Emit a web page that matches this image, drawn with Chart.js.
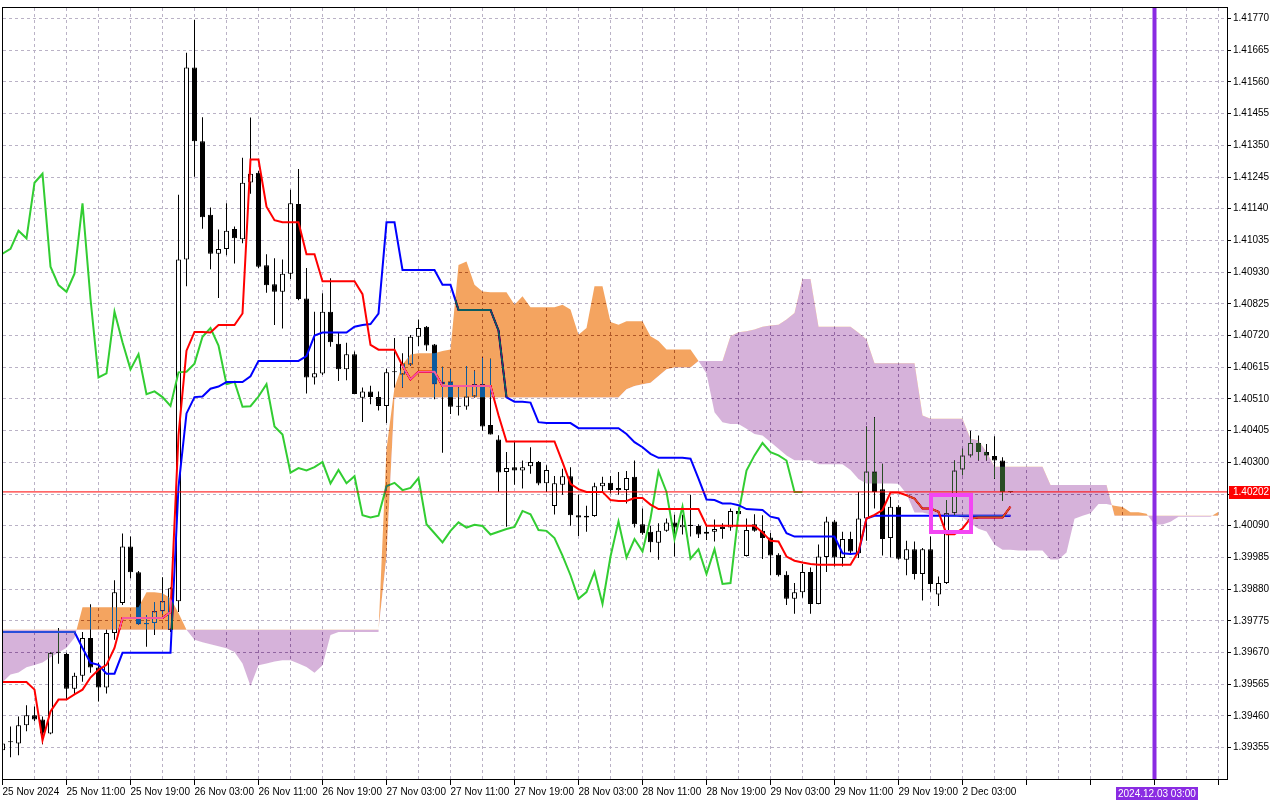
<!DOCTYPE html>
<html><head><meta charset="utf-8">
<script src="https://cdn.jsdelivr.net/npm/chart.js@4.4.1/dist/chart.umd.min.js"></script>
<style>html,body{margin:0;padding:0;background:#fff;overflow:hidden}canvas{display:block}</style>
</head><body>
<canvas id="c" width="1280" height="800"></canvas>
<script>
// ---------------- DATA (H1 bars, index 0 = 25 Nov 03:00) ----------------
const dateLabels = ["25 Nov 2024","25 Nov 11:00","25 Nov 19:00","26 Nov 03:00","26 Nov 11:00","26 Nov 19:00","27 Nov 03:00","27 Nov 11:00","27 Nov 19:00","28 Nov 03:00","28 Nov 11:00","28 Nov 19:00","29 Nov 03:00","29 Nov 11:00","29 Nov 19:00","2 Dec 03:00"];
const priceTicks = [1.39355,1.39460,1.39565,1.39670,1.39775,1.39880,1.39985,1.40090,1.40195,1.40300,1.40405,1.40510,1.40615,1.40720,1.40825,1.40930,1.41035,1.41140,1.41245,1.41350,1.41455,1.41560,1.41665,1.41770];
const currentPrice = 1.40202;
const markerIndex = 144;
const markerLabel = "2024.12.03 03:00";
const boxArea = {from: 116, to: 121, top: 1.40193, bottom: 1.40071};

const opens = [1.39346,1.39373,1.39369,1.39429,1.39462,1.39448,1.39402,1.39669,1.39665,1.39550,
1.39593,1.39718,1.39620,1.39554,1.39735,1.39834,1.40021,1.39936,1.39764,1.39768,
1.39807,1.39745,1.39840,1.40972,1.41608,1.41364,1.41120,1.40991,1.41007,1.41073,
1.41039,1.41227,1.41259,1.40953,1.40890,1.40865,1.40925,1.41156,1.40843,1.40581,
1.40594,1.40799,1.40693,1.40608,1.40658,1.40514,1.40535,1.40516,1.40487,1.40598,
1.40591,1.40624,1.40716,1.40749,1.40690,1.40559,1.40568,1.40484,1.40485,1.40518,
1.40559,1.40424,1.40376,1.40268,1.40284,1.40273,1.40287,1.40301,1.40231,1.40155,
1.40226,1.40254,1.40125,1.40117,1.40122,1.40221,1.40232,1.40208,1.40208,1.40252,
1.40095,1.40070,1.40034,1.40073,1.40101,1.40085,1.40093,1.40089,1.40063,1.40070,
1.40079,1.40084,1.40139,1.39990,1.40095,1.40073,1.40051,1.39994,1.39928,1.39848,
1.39870,1.39937,1.39831,1.39986,1.40104,1.39983,1.40046,1.39999,1.40114,1.40270,
1.40211,1.40049,1.40153,1.39977,1.40012,1.39930,1.40012,1.39862,1.39900,1.40131,
1.40276,1.40323,1.40364,1.40334,1.40321,1.40306,1.40202];
const highs = [1.39386,1.39425,1.39458,1.39495,1.39491,1.39458,1.39672,1.39751,1.39669,1.39603,
1.39738,1.39830,1.39636,1.39745,1.39909,1.40064,1.40054,1.39940,1.39794,1.39837,
1.39919,1.39886,1.41186,1.41657,1.41766,1.41443,1.41144,1.41071,1.41158,1.41081,
1.41309,1.41442,1.41265,1.40989,1.40976,1.40972,1.41203,1.41272,1.40944,1.40799,
1.40860,1.40910,1.40730,1.40696,1.40667,1.40548,1.40554,1.40535,1.40610,1.40712,
1.40661,1.40722,1.40773,1.40752,1.40692,1.40617,1.40608,1.40548,1.40619,1.40604,
1.40647,1.40643,1.40390,1.40334,1.40367,1.40306,1.40350,1.40304,1.40290,1.40255,
1.40279,1.40284,1.40193,1.40156,1.40232,1.40252,1.40255,1.40268,1.40271,1.40306,
1.40147,1.40090,1.40098,1.40114,1.40126,1.40126,1.40193,1.40095,1.40095,1.40111,
1.40098,1.40147,1.40150,1.40114,1.40128,1.40125,1.40066,1.39999,1.39939,1.39900,
1.39963,1.39952,1.40028,1.40120,1.40109,1.40070,1.40070,1.40202,1.40419,1.40449,
1.40295,1.40186,1.40158,1.40040,1.40038,1.40016,1.40054,1.39922,1.40175,1.40306,
1.40345,1.40405,1.40389,1.40361,1.40386,1.40317,1.40205];
const lows = [1.39327,1.39323,1.39330,1.39409,1.39442,1.39366,1.39399,1.39633,1.39514,1.39531,
1.39573,1.39603,1.39508,1.39534,1.39712,1.39827,1.39916,1.39761,1.39689,1.39728,
1.39797,1.39738,1.39804,1.40883,1.41246,1.41074,1.40940,1.40844,1.40986,1.40959,
1.41026,1.41190,1.40944,1.40862,1.40755,1.40743,1.40907,1.40837,1.40528,1.40558,
1.40589,1.40683,1.40569,1.40572,1.40526,1.40434,1.40492,1.40472,1.40430,1.40548,
1.40548,1.40620,1.40685,1.40670,1.40509,1.40332,1.40460,1.40455,1.40474,1.40515,
1.40405,1.40392,1.40202,1.40087,1.40226,1.40213,1.40262,1.40224,1.40202,1.40127,
1.40193,1.40090,1.40056,1.40070,1.40120,1.40202,1.40197,1.40193,1.40164,1.40084,
1.40060,1.40002,1.39977,1.40070,1.39988,1.40061,1.40054,1.40049,1.40043,1.40038,
1.40047,1.40073,1.40120,1.39988,1.40070,1.39980,1.39926,1.39922,1.39827,1.39798,
1.39851,1.39798,1.39830,1.39937,1.39955,1.39955,1.39994,1.39983,1.40040,1.40147,
1.39991,1.39985,1.39977,1.39926,1.39912,1.39842,1.39871,1.39824,1.39897,1.40125,
1.40257,1.40317,1.40306,1.40306,1.40246,1.40172,1.40200];
const closes = [1.39369,1.39375,1.39429,1.39462,1.39448,1.39402,1.39669,1.39672,1.39550,1.39593,
1.39718,1.39620,1.39554,1.39735,1.39870,1.40021,1.39936,1.39764,1.39768,1.39807,
1.39840,1.39883,1.40972,1.41608,1.41364,1.41112,1.40991,1.41007,1.41067,1.41042,
1.41226,1.41256,1.40948,1.40887,1.40865,1.40925,1.41158,1.40841,1.40581,1.40595,
1.40799,1.40698,1.40608,1.40658,1.40526,1.40535,1.40516,1.40487,1.40598,1.40600,
1.40627,1.40716,1.40745,1.40687,1.40559,1.40567,1.40484,1.40486,1.40518,1.40559,
1.40419,1.40392,1.40266,1.40281,1.40273,1.40284,1.40301,1.40230,1.40275,1.40231,
1.40254,1.40125,1.40117,1.40123,1.40221,1.40232,1.40208,1.40215,1.40248,1.40095,
1.40065,1.40035,1.40073,1.40101,1.40084,1.40093,1.40089,1.40061,1.40070,1.40079,
1.40086,1.40139,1.40128,1.40076,1.40073,1.40049,1.39991,1.39926,1.39848,1.39870,
1.39937,1.39831,1.39988,1.40104,1.39985,1.40046,1.40005,1.40114,1.40270,1.40202,
1.40046,1.40153,1.39981,1.40012,1.39930,1.40012,1.39897,1.39900,1.40131,1.40273,
1.40323,1.40364,1.40334,1.40323,1.40306,1.40202,1.40202];
const tenkan = [1.39572,1.39572,1.39572,1.39572,1.39547,1.39379,1.39475,1.39514,1.39514,1.39531,
1.39547,1.39587,1.39613,1.39629,1.39685,1.39784,1.39784,1.39784,1.39784,1.39784,
1.39784,1.39804,1.40390,1.40670,1.40732,1.40732,1.40730,1.40755,1.40755,1.40755,
1.40793,1.41303,1.41303,1.41147,1.41102,1.41095,1.41095,1.41095,1.40989,1.40989,
1.40900,1.40900,1.40900,1.40900,1.40900,1.40857,1.40689,1.40673,1.40673,1.40673,
1.40620,1.40575,1.40600,1.40600,1.40600,1.40553,1.40553,1.40553,1.40553,1.40553,
1.40553,1.40553,1.40456,1.40369,1.40369,1.40369,1.40369,1.40369,1.40369,1.40369,
1.40301,1.40229,1.40211,1.40202,1.40202,1.40202,1.40175,1.40172,1.40172,1.40182,
1.40182,1.40160,1.40145,1.40145,1.40145,1.40145,1.40145,1.40145,1.40090,1.40090,
1.40090,1.40090,1.40090,1.40090,1.40090,1.40068,1.40040,1.40038,1.39988,1.39974,
1.39968,1.39963,1.39961,1.39961,1.39961,1.39961,1.39961,1.40005,1.40114,1.40126,
1.40142,1.40200,1.40200,1.40191,1.40180,1.40147,1.40147,1.40136,1.40062,1.40062,
1.40081,1.40114,1.40117,1.40117,1.40117,1.40117,1.40153];
const kijun = [1.39738,1.39738,1.39738,1.39738,1.39738,1.39738,1.39738,1.39738,1.39738,1.39738,
1.39685,1.39636,1.39629,1.39600,1.39600,1.39669,1.39669,1.39669,1.39669,1.39669,
1.39669,1.39669,1.40219,1.40462,1.40516,1.40518,1.40544,1.40551,1.40566,1.40566,
1.40566,1.40585,1.40636,1.40636,1.40636,1.40636,1.40636,1.40636,1.40652,1.40720,
1.40730,1.40730,1.40730,1.40730,1.40749,1.40755,1.40758,1.40793,1.41095,1.41095,
1.40937,1.40937,1.40937,1.40937,1.40937,1.40888,1.40888,1.40805,1.40805,1.40805,
1.40805,1.40805,1.40737,1.40515,1.40501,1.40501,1.40498,1.40433,1.40430,1.40430,
1.40430,1.40430,1.40413,1.40413,1.40413,1.40413,1.40413,1.40413,1.40394,1.40367,
1.40350,1.40328,1.40315,1.40315,1.40315,1.40315,1.40312,1.40246,1.40177,1.40175,
1.40164,1.40164,1.40158,1.40145,1.40144,1.40142,1.40120,1.40114,1.40065,1.40054,
1.40054,1.40054,1.40054,1.40054,1.40054,1.39999,1.39996,1.39999,1.40114,1.40123,
1.40123,1.40123,1.40123,1.40123,1.40123,1.40123,1.40123,1.40123,1.40123,1.40123,
1.40123,1.40123,1.40123,1.40123,1.40123,1.40123,1.40123];
// Chikou span (close plotted 26 bars back), index 0..100
const chikou = [1.40991,1.41007,1.41067,1.41042,1.41226,1.41256,1.40948,1.40887,1.40865,1.40925,
1.41158,1.40841,1.40581,1.40595,1.40799,1.40698,1.40608,1.40658,1.40526,1.40535,
1.40516,1.40487,1.40598,1.40600,1.40627,1.40716,1.40745,1.40687,1.40559,1.40567,
1.40484,1.40486,1.40518,1.40559,1.40419,1.40392,1.40266,1.40281,1.40273,1.40284,
1.40301,1.40230,1.40275,1.40231,1.40254,1.40125,1.40117,1.40123,1.40221,1.40232,
1.40208,1.40215,1.40248,1.40095,1.40065,1.40035,1.40073,1.40101,1.40084,1.40093,
1.40089,1.40061,1.40070,1.40079,1.40086,1.40139,1.40128,1.40076,1.40073,1.40049,
1.39991,1.39926,1.39848,1.39870,1.39937,1.39831,1.39988,1.40104,1.39985,1.40046,
1.40005,1.40114,1.40270,1.40202,1.40046,1.40153,1.39981,1.40012,1.39930,1.40012,
1.39897,1.39900,1.40131,1.40273,1.40323,1.40364,1.40334,1.40323,1.40306,1.40202,
1.40202];
// Senkou spans (plotted 26 bars ahead), index 0..152
const spanA = [1.39572,1.39597,1.39604,1.39621,1.39629,1.39637,1.39654,1.39670,1.39686,1.39719,
1.39820,1.39820,1.39820,1.39820,1.39820,1.39820,1.39820,1.39820,1.39870,1.39870,
1.39866,1.39850,1.39801,1.39745,1.39712,1.39704,1.39697,1.39691,1.39684,1.39672,
1.39634,1.39559,1.39628,1.39634,1.39640,1.39644,1.39644,1.39634,1.39622,1.39603,
1.39628,1.39728,1.39738,1.39738,1.39738,1.39738,1.39738,1.39738,1.40344,1.40548,
1.40624,1.40657,1.40661,1.40661,1.40661,1.40669,1.40674,1.40954,1.40965,1.40888,
1.40866,1.40863,1.40863,1.40863,1.40822,1.40850,1.40814,1.40814,1.40814,1.40814,
1.40822,1.40806,1.40723,1.40745,1.40883,1.40883,1.40765,1.40756,1.40767,1.40767,
1.40767,1.40718,1.40702,1.40674,1.40674,1.40674,1.40674,1.40636,1.40594,1.40466,
1.40433,1.40427,1.40427,1.40411,1.40394,1.40389,1.40367,1.40345,1.40323,1.40307,
1.40307,1.40307,1.40294,1.40294,1.40294,1.40294,1.40275,1.40245,1.40230,1.40230,
1.40230,1.40230,1.40229,1.40196,1.40134,1.40134,1.40127,1.40127,1.40124,1.40124,
1.40117,1.40098,1.40080,1.40071,1.40028,1.40010,1.40010,1.40008,1.40008,1.40008,
1.40008,1.39978,1.39978,1.40001,1.40113,1.40123,1.40131,1.40162,1.40162,1.40156,
1.40152,1.40135,1.40135,1.40130,1.40094,1.40094,1.40103,1.40120,1.40120,1.40120,
1.40120,1.40120,1.40136];
const spanB = [1.39745,1.39745,1.39745,1.39745,1.39745,1.39745,1.39745,1.39745,1.39745,1.39745,
1.39745,1.39745,1.39745,1.39745,1.39745,1.39745,1.39745,1.39745,1.39745,1.39745,
1.39745,1.39745,1.39745,1.39745,1.39745,1.39745,1.39745,1.39745,1.39745,1.39745,
1.39745,1.39745,1.39745,1.39745,1.39745,1.39745,1.39745,1.39745,1.39745,1.39745,
1.39745,1.39745,1.39745,1.39745,1.39745,1.39745,1.39745,1.39745,1.39990,1.40515,
1.40515,1.40515,1.40515,1.40515,1.40515,1.40515,1.40515,1.40515,1.40515,1.40515,
1.40515,1.40515,1.40515,1.40515,1.40515,1.40515,1.40515,1.40515,1.40515,1.40515,
1.40515,1.40515,1.40515,1.40515,1.40515,1.40515,1.40515,1.40515,1.40542,1.40553,
1.40559,1.40564,1.40586,1.40608,1.40614,1.40614,1.40614,1.40636,1.40636,1.40636,
1.40636,1.40718,1.40731,1.40734,1.40740,1.40749,1.40753,1.40756,1.40773,1.40795,
1.40907,1.40907,1.40749,1.40749,1.40749,1.40749,1.40749,1.40729,1.40707,1.40628,
1.40628,1.40628,1.40628,1.40628,1.40628,1.40455,1.40444,1.40444,1.40444,1.40444,
1.40444,1.40378,1.40372,1.40334,1.40285,1.40285,1.40285,1.40285,1.40285,1.40285,
1.40285,1.40225,1.40225,1.40225,1.40225,1.40225,1.40225,1.40225,1.40225,1.40123,
1.40123,1.40123,1.40123,1.40123,1.40123,1.40123,1.40123,1.40123,1.40123,1.40123,
1.40123,1.40123,1.40123];

// ---------------- VIEW ----------------
const X_MIN = 0.0625, X_MAX = 153.0625;
const Y_MIN = 1.39251, Y_MAX = 1.41805;
const FONT = '"Liberation Sans", Arial, sans-serif';
const COL = {
  tenkan:'#ff0000', kijun:'#0000ff', chikou:'#32cd32',
  kumoUpX:'rgb(11,91,159)',   // white "difference" -> sandybrown
  kumoDnX:'rgb(41,77,37)',    // white "difference" -> lilac/thistle
  grid:'rgb(186,178,198)', price:'#ff0000', marker:'#8a2be2', box:'#f346f3'
};

const wickData = opens.map((o, i) => ({x: i, y: [lows[i], highs[i]]}));
const bodyData = opens.map((o, i) => ({x: i, y: [o, closes[i]]}));
const bodyFill = opens.map((o, i) => closes[i] >= o ? '#ffffff' : '#000000');
const pts = arr => arr.map((v, i) => ({x: i, y: v}));
const gridIdx = []; for (let k = 0; k <= 152; k += 4) gridIdx.push(k);

const IDX_A = 5, IDX_B = 6;

const mtPlugin = {
  id: 'mt',
  beforeDraw(chart) {
    const c = chart.ctx; c.save(); c.globalCompositeOperation = 'source-over';
    c.fillStyle = '#ffffff'; c.fillRect(0, 0, chart.width, chart.height); c.restore();
  },
  afterDatasetDraw(chart, args) {
    if (args.index === IDX_B) chart.ctx.globalCompositeOperation = 'difference';
    else if (args.index === IDX_A) chart.ctx.globalCompositeOperation = 'source-over';
  },
  afterDatasetsDraw(chart) {
    const {ctx, chartArea: a} = chart; const xs = chart.scales.x, ys = chart.scales.y;
    ctx.save();
    ctx.globalCompositeOperation = 'source-over';
    ctx.beginPath(); ctx.rect(a.left, a.top, a.right - a.left, a.bottom - a.top); ctx.clip();
    const x0 = xs.getPixelForValue(boxArea.from), x1 = xs.getPixelForValue(boxArea.to);
    const y0 = ys.getPixelForValue(boxArea.top), y1 = ys.getPixelForValue(boxArea.bottom);
    ctx.strokeStyle = COL.box; ctx.lineWidth = 4;
    ctx.strokeRect(Math.round(x0), Math.round(y0), Math.round(x1 - x0), Math.round(y1 - y0));
    ctx.restore();
  },
  afterDraw(chart) {
    const {ctx, chartArea: a} = chart; const xs = chart.scales.x, ys = chart.scales.y;
    ctx.save();
    ctx.globalCompositeOperation = 'source-over';
    ctx.strokeStyle = '#000'; ctx.lineWidth = 1;
    ctx.strokeRect(a.left - 0.5, a.top - 0.5, a.right - a.left + 1, a.bottom - a.top + 1);
    const py = Math.round(ys.getPixelForValue(currentPrice));
    ctx.fillStyle = COL.price;
    ctx.fillRect(a.right + 2, py - 6, 41, 13);
    ctx.font = '10px ' + FONT; ctx.fillStyle = '#fff'; ctx.textBaseline = 'middle'; ctx.textAlign = 'left';
    ctx.fillText(currentPrice.toFixed(5), a.right + 6, py + 0.5);
    const mx = xs.getPixelForValue(markerIndex);
    const tw = ctx.measureText(markerLabel).width;
    ctx.fillStyle = COL.marker;
    ctx.fillRect(Math.round(mx - tw / 2), 787, Math.round(tw + 4), 13);
    ctx.fillStyle = '#fff'; ctx.textAlign = 'left';
    ctx.fillText(markerLabel, Math.round(mx - tw / 2) + 2, 794);
    ctx.restore();
  }
};

new Chart(document.getElementById('c'), {
  type: 'line',
  data: {
    datasets: [
      {type:'bar', label:'wicks', data: wickData, backgroundColor:'#000', borderWidth:0, barThickness:1,
       grouped:false, minBarLength:1, inflateAmount:0, order:9},
      {type:'bar', label:'bodies', data: bodyData, backgroundColor: bodyFill, borderColor:'#000', borderWidth:1,
       borderSkipped:false, barThickness:5, grouped:false, minBarLength:1, inflateAmount:0, order:8},
      {label:'Chikou', data: pts(chikou), borderColor: COL.chikou, borderWidth:2, pointRadius:0, fill:false, order:7},
      {label:'Kijun', data: pts(kijun), borderColor: COL.kijun, borderWidth:2, pointRadius:0, fill:false, order:6},
      {label:'Tenkan', data: pts(tenkan), borderColor: COL.tenkan, borderWidth:2, pointRadius:0, fill:false, order:5},
      {label:'Senkou A', data: pts(spanA), borderColor:'rgba(0,0,0,0)', borderWidth:0, pointRadius:0,
       fill:{target: IDX_B, above: COL.kumoUpX, below: COL.kumoDnX}, order:3},
      {label:'Senkou B', data: pts(spanB), borderColor:'rgba(0,0,0,0)', borderWidth:0, pointRadius:0, fill:false, order:4},
      {label:'price', data:[{x:X_MIN, y:currentPrice},{x:X_MAX, y:currentPrice}], borderColor: COL.price,
       borderWidth:1, pointRadius:0, fill:false, order:2},
      {label:'marker', data:[{x:markerIndex, y:Y_MIN},{x:markerIndex, y:Y_MAX}], borderColor: COL.marker,
       borderWidth:4, pointRadius:0, fill:false, order:1}
    ]
  },
  options: {
    responsive:false, animation:false, devicePixelRatio:1, events:[],
    layout:{padding:{left:3, top:3, right:0, bottom:0}},
    elements:{line:{tension:0}},
    plugins:{legend:{display:false}, tooltip:{enabled:false}, filler:{drawTime:'beforeDatasetDraw', propagate:false}},
    scales:{
      x:{type:'linear', min:X_MIN, max:X_MAX, offset:false,
         afterBuildTicks: s => { s.ticks = gridIdx.map(v => ({value:v})); },
         afterFit: s => { s.height = 21; },
         grid:{color: COL.grid, lineWidth:1, drawTicks:true, tickLength:6, offset:false,
               tickColor: c => (c.tick && c.tick.value % 8 === 0) ? '#000' : 'rgba(0,0,0,0)'},
         border:{display:false, dash:[3,3]},
         ticks:{autoSkip:false, maxRotation:0, minRotation:0, align:'start', padding:1, color:'#000',
                font:{family:FONT, size:10},
                callback: v => (v % 8 === 0 && v / 8 < dateLabels.length) ? dateLabels[v / 8] : ''}},
      y:{type:'linear', position:'right', min:Y_MIN, max:Y_MAX,
         afterBuildTicks: s => { s.ticks = priceTicks.map(v => ({value:v})); },
         afterFit: s => { s.width = 53; },
         grid:{color: COL.grid, lineWidth:1, drawTicks:true, tickLength:4, tickColor:'#000'},
         border:{display:false, dash:[3,3]},
         ticks:{autoSkip:false, padding:2, color:'#000', font:{family:FONT, size:10},
                callback: v => Math.abs(v - currentPrice) < 0.0002 ? '' : v.toFixed(5)}}
    }
  },
  plugins:[mtPlugin]
});
</script>
</body></html>
